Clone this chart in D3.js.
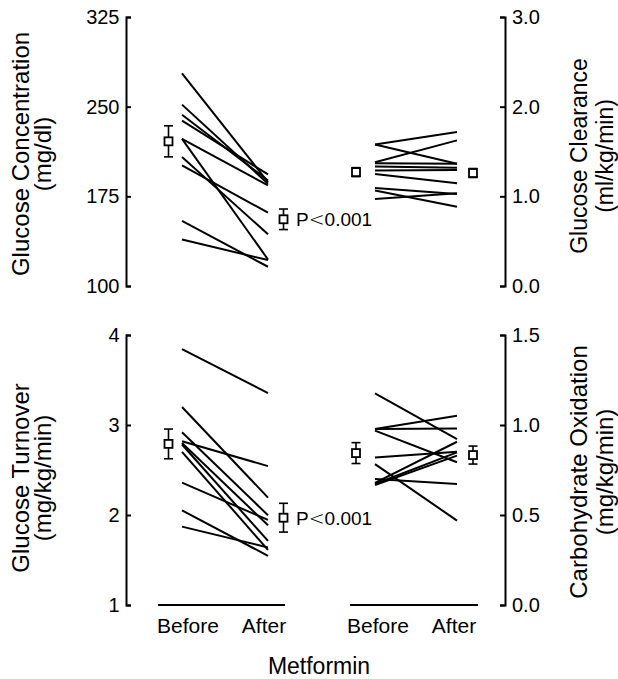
<!DOCTYPE html>
<html><head><meta charset="utf-8">
<script src="https://cdn.jsdelivr.net/npm/d3@7"></script>
<style>
body{margin:0;background:#fff}
svg{display:block}
text{font-family:"Liberation Sans",Arial,Helvetica,sans-serif;fill:#000}
</style>
</head><body>
<svg id="c" width="618" height="679"></svg>
<script>
// ---------- DATA ----------
const conditions = ["Before", "After"];
const groupLabel = "Metformin";

// Glucose concentration (mg/dl)
const concBefore = [277.8, 251.7, 243.3, 238.3, 223.0, 223.0, 207.8, 200.8, 154.4, 138.9];
const concAfter  = [186.9, 185.6, 188.3, 193.3, 184.2, 122.2, 143.3, 161.4, 116.1, 121.7];
const concMean = [221.0, 155.8];
const concSem  = [13.0, 8.6];
const concTicks = [100, 175, 250, 325];

// Glucose clearance (ml/kg/min)
const clearBefore = [1.579, 1.579, 1.381, 1.370, 1.333, 1.288, 1.250, 1.094, 1.064, 0.971];
const clearAfter  = [1.717, 1.363, 1.624, 1.363, 1.318, 1.295, 1.146, 1.027, 0.885, 1.034];
const clearMean = [1.27, 1.26];
const clearSem  = [0.05, 0.05];
const clearTicks = [0, 1, 2, 3];

// Glucose turnover (mg/kg/min)
const turnBefore = [3.843, 3.200, 2.919, 2.820, 2.801, 2.783, 2.702, 2.359, 2.052, 1.871];
const turnAfter  = [3.355, 2.193, 1.997, 2.543, 1.886, 1.712, 1.612, 1.945, 1.546, 1.639];
const turnMean = [2.79, 1.97];
const turnSem  = [0.165, 0.16];
const turnTicks = [1, 2, 3, 4];

// Carbohydrate oxidation (mg/kg/min)
const oxBefore = [1.176, 0.978, 0.978, 0.969, 0.820, 0.783, 0.700, 0.678, 0.672, 0.667];
const oxAfter  = [0.922, 1.052, 0.981, 0.793, 0.852, 0.469, 0.672, 0.907, 0.848, 0.830];
const oxMean = [0.844, 0.833];
const oxSem  = [0.058, 0.05];
const oxTicks = [0, 0.5, 1.0, 1.5];

const pText = "P<0.001";

// ---------- LAYOUT ----------
const svg = d3.select("#c");
const FONT = '"Liberation Sans",Arial,Helvetica,sans-serif';

const yTL = d3.scaleLinear().domain([100, 325]).range([286, 17]);
const yTR = d3.scaleLinear().domain([0, 3]).range([286, 17]);
const yBL = d3.scaleLinear().domain([1, 4]).range([605, 335]);
const yBR = d3.scaleLinear().domain([0, 1.5]).range([605, 335]);

const xLeft  = d3.scalePoint().domain(conditions).range([182, 268]);
const xRight = d3.scalePoint().domain(conditions).range([375, 457]);
const markerOffset = {Before: -13.5, After: 15.5};
const markerOffsetR = {Before: -19, After: 16};

function styleAxis(g, fs) {
  g.attr("font-family", FONT).attr("font-size", fs);
  g.select(".domain").attr("stroke-width", 2).attr("stroke", "#000");
  g.selectAll(".tick line").attr("stroke-width", 2).attr("stroke", "#000");
  g.selectAll(".tick text").attr("fill", "#000");
}

// Axes
svg.append("g").attr("transform", "translate(126,0)")
  .call(d3.axisLeft(yTL).tickValues(concTicks).tickSize(-5).tickPadding(6.5).tickFormat(d3.format("d")))
  .call(g => styleAxis(g, 20));
svg.append("g").attr("transform", "translate(505,0)")
  .call(d3.axisRight(yTR).tickValues(clearTicks).tickSize(-5).tickPadding(7).tickFormat(d3.format(".1f")))
  .call(g => styleAxis(g, 20));
svg.append("g").attr("transform", "translate(126,0)")
  .call(d3.axisLeft(yBL).tickValues(turnTicks).tickSize(-5).tickPadding(6.5).tickFormat(d3.format("d")))
  .call(g => styleAxis(g, 20));
svg.append("g").attr("transform", "translate(505,0)")
  .call(d3.axisRight(yBR).tickValues(oxTicks).tickSize(-5).tickPadding(7).tickFormat(d3.format(".1f")))
  .call(g => styleAxis(g, 20));

// Bottom baseline lines
svg.append("line").attr("x1", 158).attr("x2", 285).attr("y1", 605).attr("y2", 605)
  .attr("stroke", "#000").attr("stroke-width", 2);
svg.append("line").attr("x1", 350).attr("x2", 478).attr("y1", 605).attr("y2", 605)
  .attr("stroke", "#000").attr("stroke-width", 2);

function drawPanel(x, y, before, after, mean, sem, offs) {
  const g = svg.append("g");
  const pairs = before.map((b, i) => [b, after[i]]);
  g.selectAll("line.subj").data(pairs).join("line")
    .attr("class", "subj")
    .attr("x1", x("Before")).attr("x2", x("After"))
    .attr("y1", d => y(d[0])).attr("y2", d => y(d[1]))
    .attr("stroke", "#000").attr("stroke-width", 2);
  const m = conditions.map((c, i) => ({c, mean: mean[i], sem: sem[i]}));
  const mg = g.selectAll("g.mk").data(m).join("g").attr("class", "mk")
    .attr("transform", d => `translate(${x(d.c) + offs[d.c]},0)`);
  mg.append("line").attr("x1", 0).attr("x2", 0)
    .attr("y1", d => y(d.mean - d.sem)).attr("y2", d => y(d.mean + d.sem))
    .attr("stroke", "#000").attr("stroke-width", 1.6);
  mg.append("line").attr("x1", -4.5).attr("x2", 4.5)
    .attr("y1", d => y(d.mean - d.sem)).attr("y2", d => y(d.mean - d.sem))
    .attr("stroke", "#000").attr("stroke-width", 1.6);
  mg.append("line").attr("x1", -4.5).attr("x2", 4.5)
    .attr("y1", d => y(d.mean + d.sem)).attr("y2", d => y(d.mean + d.sem))
    .attr("stroke", "#000").attr("stroke-width", 1.6);
  mg.append("rect").attr("x", -4).attr("width", 8).attr("height", 8)
    .attr("y", d => y(d.mean) - 4)
    .attr("fill", "#fff").attr("stroke", "#000").attr("stroke-width", 1.8);
  return m;
}

drawPanel(xLeft, yTL, concBefore, concAfter, concMean, concSem, markerOffset);
drawPanel(xRight, yTR, clearBefore, clearAfter, clearMean, clearSem, markerOffsetR);
drawPanel(xLeft, yBL, turnBefore, turnAfter, turnMean, turnSem, markerOffset);
drawPanel(xRight, yBR, oxBefore, oxAfter, oxMean, oxSem, markerOffsetR);

function pLabel(y, mean) {
  const t = svg.append("text").attr("x", 296).attr("y", y(mean) + 7).attr("font-size", 19);
  const parts = pText.split("<");
  t.append("tspan").text(parts[0]);
  t.append("tspan").attr("font-family", "DejaVu Sans").attr("font-weight", 200).text("<");
  t.append("tspan").text(parts[1]);
}
pLabel(yTL, concMean[1]);
pLabel(yBL, turnMean[1]);

// X labels
[[xLeft, 6, -4], [xRight, 3, -3]].forEach(([x, ob, oa]) => {
  svg.append("text").attr("x", x("Before") + ob).attr("y", 633).attr("text-anchor", "middle")
    .attr("font-size", 21).text(conditions[0]);
  svg.append("text").attr("x", x("After") + oa).attr("y", 633).attr("text-anchor", "middle")
    .attr("font-size", 21).text(conditions[1]);
});
svg.append("text").attr("x", 319).attr("y", 674).attr("text-anchor", "middle")
  .attr("font-size", 23).text(groupLabel);

// Y titles
function yTitle(x1, x2, cy, l1, l2, fs) {
  svg.append("text").attr("transform", `translate(${x1},${cy}) rotate(-90)`)
    .attr("text-anchor", "middle").attr("font-size", fs).text(l1);
  svg.append("text").attr("transform", `translate(${x2},${cy}) rotate(-90)`)
    .attr("text-anchor", "middle").attr("font-size", fs).text(l2);
}
yTitle(28.5, 50.5, 154, "Glucose Concentration", "(mg/dl)", 24);
yTitle(587, 613, 156, "Glucose Clearance", "(ml/kg/min)", 23);
yTitle(28.5, 50.5, 478, "Glucose Turnover", "(mg/kg/min)", 24);
yTitle(587, 613, 472, "Carbohydrate Oxidation", "(mg/kg/min)", 24);
</script>
</body></html>
